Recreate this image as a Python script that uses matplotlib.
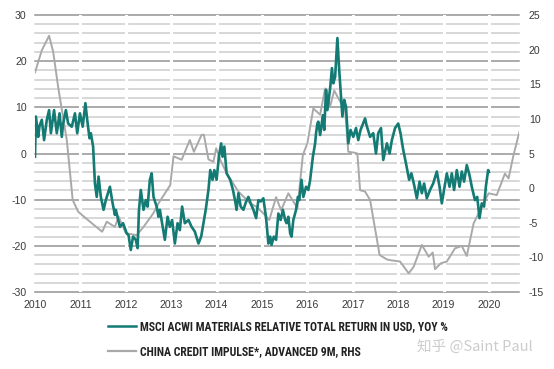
import matplotlib.pyplot as plt
from matplotlib.lines import Line2D
from matplotlib import font_manager as fm

# MSCI ACWI materials relative total return, YoY % (left axis)
teal_t = [2010.00, 2010.02, 2010.07, 2010.10, 2010.15, 2010.20, 2010.26, 2010.31, 2010.35, 2010.42,
          2010.48, 2010.54, 2010.59, 2010.62, 2010.68, 2010.73, 2010.81, 2010.88, 2010.93, 2010.99,
          2011.05, 2011.11, 2011.15, 2011.20, 2011.23, 2011.28, 2011.32, 2011.36, 2011.40, 2011.45,
          2011.51, 2011.56, 2011.65, 2011.71, 2011.76, 2011.78, 2011.87, 2011.94, 2012.02, 2012.06,
          2012.11, 2012.16, 2012.22, 2012.26, 2012.29, 2012.33, 2012.39, 2012.44, 2012.48, 2012.53,
          2012.57, 2012.61, 2012.68, 2012.72, 2012.75, 2012.80, 2012.86, 2012.92, 2012.97, 2013.02,
          2013.08, 2013.14, 2013.19, 2013.24, 2013.30, 2013.38, 2013.45, 2013.52, 2013.60, 2013.66,
          2013.71, 2013.76, 2013.82, 2013.86, 2013.91, 2013.95, 2014.00, 2014.05, 2014.10, 2014.13,
          2014.17, 2014.22, 2014.30, 2014.36, 2014.41, 2014.44, 2014.48, 2014.53, 2014.59, 2014.65,
          2014.70, 2014.75, 2014.81, 2014.87, 2014.92, 2014.97, 2015.03, 2015.09, 2015.14, 2015.18,
          2015.21, 2015.26, 2015.31, 2015.36, 2015.41, 2015.46, 2015.51, 2015.54, 2015.58, 2015.62,
          2015.65, 2015.69, 2015.75, 2015.79, 2015.82, 2015.87, 2015.91, 2015.97, 2016.02, 2016.06,
          2016.12, 2016.17, 2016.19, 2016.22, 2016.24, 2016.28, 2016.34, 2016.37, 2016.41, 2016.44,
          2016.50, 2016.54, 2016.57, 2016.61, 2016.66, 2016.70, 2016.73, 2016.77, 2016.81, 2016.85,
          2016.90, 2016.95, 2017.01, 2017.07, 2017.12, 2017.17, 2017.27, 2017.30, 2017.38, 2017.45,
          2017.51, 2017.56, 2017.62, 2017.67, 2017.75, 2017.81, 2017.86, 2017.93, 2018.00, 2018.05,
          2018.11, 2018.17, 2018.24, 2018.29, 2018.35, 2018.41, 2018.47, 2018.52, 2018.57, 2018.63,
          2018.70, 2018.77, 2018.85, 2018.91, 2018.96, 2019.01, 2019.07, 2019.13, 2019.18, 2019.23,
          2019.29, 2019.35, 2019.40, 2019.45, 2019.51, 2019.57, 2019.62, 2019.69, 2019.74, 2019.79,
          2019.84, 2019.89, 2019.93, 2019.98, 2020.00]
teal_v = [-0.7, 8.0, 3.6, 6.0, 7.3, 2.9, 7.3, 9.4, 4.4, 9.4,
          4.4, 8.7, 3.6, 6.5, 9.4, 6.5, 5.8, 8.7, 4.4, 8.7,
          5.8, 10.9, 7.3, 3.3, 4.4, 1.5, -6.5, -9.4, -5.0, -9.4,
          -12.2, -10.1, -7.2, -10.8, -13.3, -12.2, -15.9, -15.1, -17.3, -17.7,
          -20.9, -18.0, -18.7, -20.5, -12.2, -7.9, -12.2, -10.1, -11.5, -5.7,
          -4.3, -9.4, -11.5, -13.7, -12.2, -15.1, -18.7, -13.7, -15.9, -14.4,
          -19.5, -15.1, -16.6, -11.5, -15.1, -14.4, -15.9, -16.9, -19.5, -18.0,
          -15.1, -12.2, -7.9, -3.6, -5.7, -3.6, -5.7, -0.7, 2.2, -0.7,
          1.5, -4.3, -5.7, -7.9, -10.4, -12.2, -8.6, -11.5, -12.2, -10.4,
          -9.4, -10.8, -12.2, -14.0, -10.1, -10.4, -9.7, -14.0, -19.5, -18.0,
          -19.8, -18.0, -18.7, -13.0, -14.4, -12.2, -14.4, -15.1, -13.7, -17.3,
          -18.0, -14.4, -12.2, -9.4, -10.1, -5.7, -9.4, -7.2, -7.9, -5.7,
          -0.7, 2.2, 4.4, 6.5, 6.9, 4.0, 8.3, 5.1, 13.8, 9.4,
          14.1, 18.5, 15.2, 16.6, 25.0, 18.1, 13.8, 8.0, 11.6, 10.1,
          2.2, 5.1, 3.6, 5.5, 2.9, 5.1, 7.6, 6.2, 3.6, 4.4,
          0.0, 4.4, 5.5, -1.4, 2.2, 0.0, 2.9, 5.5, 6.5, 4.4,
          0.8, -2.1, -5.7, -4.3, -6.8, -9.7, -6.1, -8.6, -6.5, -9.7,
          -7.9, -6.5, -3.9, -7.2, -10.8, -7.9, -4.3, -7.2, -4.3, -7.9,
          -3.6, -7.2, -3.9, -6.1, -2.5, -4.7, -7.2, -10.1, -9.4, -14.0,
          -10.8, -11.5, -7.2, -3.6, -4.0]

# China credit impulse, advanced 9M (right axis)
gray_t = [2010.00, 2010.15, 2010.31, 2010.40, 2010.51, 2010.70, 2010.83, 2010.95, 2011.21, 2011.48,
          2011.58, 2011.76, 2011.84, 2012.00, 2012.24, 2012.39, 2012.61, 2012.72, 2012.98, 2013.05,
          2013.23, 2013.41, 2013.50, 2013.67, 2013.72, 2013.82, 2013.93, 2013.99, 2014.08, 2014.22,
          2014.48, 2014.74, 2014.88, 2015.03, 2015.16, 2015.31, 2015.42, 2015.58, 2015.78, 2015.90,
          2016.00, 2016.13, 2016.28, 2016.39, 2016.50, 2016.59, 2016.76, 2016.83, 2016.90, 2017.05,
          2017.10, 2017.16, 2017.27, 2017.38, 2017.59, 2017.75, 2017.82, 2018.04, 2018.23, 2018.34,
          2018.52, 2018.67, 2018.76, 2018.81, 2018.94, 2019.07, 2019.25, 2019.40, 2019.51, 2019.66,
          2019.84, 2019.99, 2020.17, 2020.35, 2020.43, 2020.54, 2020.67]
gray_v = [16.7, 19.9, 22.0, 19.7, 14.6, 6.95, -1.7, -3.4, -4.85, -6.3,
          -4.85, -5.6, -4.1, -6.5, -6.8, -5.6, -3.6, -2.2, 0.45, 4.6,
          4.1, 6.95, 5.25, 7.7, 7.7, 4.15, 3.8, 5.75, 4.1, 2.15,
          -0.5, -2.2, -2.7, -3.65, -4.6, -1.3, -3.2, -0.75, -2.9, 4.8,
          6.5, 11.5, 10.6, 14.4, 11.8, 14.1, 12.0, 11.3, 5.25, 5.1,
          5.0, -0.3, -0.5, -1.7, -9.65, -10.3, -10.4, -10.6, -12.3, -11.35,
          -8.2, -9.9, -9.3, -11.7, -10.85, -10.6, -8.7, -8.35, -9.8, -5.1,
          -2.7, -0.75, -1.0, 2.1, 1.4, 4.8, 8.15]

years = list(range(2010, 2021))
left_ticks = [30, 20, 10, 0, -10, -20, -30]
right_ticks = [25, 20, 15, 10, 5, 0, -5, -10, -15]

teal = '#137b74'
gray = '#a9a9a9'
tick_font = {'family': 'Liberation Sans', 'size': 7.6, 'color': '#3a3a3a'}

# pick a narrow bold face for the legend if one is installed
installed = {f.name for f in fm.fontManager.ttflist}
legend_prop = {'family': 'Liberation Sans', 'weight': 'bold', 'size': 6.8}
for name in ['Liberation Sans Narrow', 'Roboto Condensed', 'Open Sans Condensed', 'Noto Sans Condensed']:
    if name in installed:
        legend_prop = {'family': name, 'weight': 'bold', 'size': 8.5}
        break
else:
    for f in fm.fontManager.ttflist:
        if f.name == 'DejaVu Sans' and f.stretch == 'condensed' and f.weight in (700, 'bold') \
                and f.style == 'normal':
            legend_prop = {'family': 'DejaVu Sans', 'stretch': 'condensed', 'weight': 'bold',
                           'size': 7.4}
            break

fig = plt.figure(figsize=(5.54, 3.69), dpi=100)
ax = fig.add_axes([35 / 554, 1 - 292 / 369, (519 - 35) / 554, (292 - 15) / 369])
ax.set_xlim(2010, 2020.66)
ax.set_ylim(-30, 30)

# horizontal grid, every 2 on the left scale, darker every 10
for v in range(-30, 31, 2):
    major = v % 10 == 0
    ax.axhline(v, color='#939393' if major else '#cdcdcd', lw=1.1, zorder=0, clip_on=False)
# white gaps at year boundaries
for yr in years[1:]:
    ax.axvline(yr, color='white', lw=2.2, zorder=1)

ax2 = ax.twinx()
ax2.set_ylim(-15, 25)
ax2.plot(gray_t, gray_v, color=gray, lw=1.4)

ax3 = ax.twinx()
ax3.set_ylim(-30, 30)
ax3.plot(teal_t, teal_v, color=teal, lw=1.9)
ax3.set_yticks([])

for a in (ax, ax2, ax3):
    for s in a.spines.values():
        s.set_visible(False)

ax.set_yticks(left_ticks)
ax.set_yticklabels([str(t) for t in left_ticks], fontdict=tick_font)
ax.set_xticks(years)
ax.set_xticklabels([str(y) for y in years], fontdict=tick_font)
ax.tick_params(axis='both', length=0)
ax.tick_params(axis='y', pad=6)
ax.tick_params(axis='x', pad=6)
ax2.set_yticks(right_ticks)
ax2.set_yticklabels([str(t) for t in right_ticks], fontdict=tick_font)
ax2.tick_params(axis='y', length=0, pad=7)

handles = [Line2D([], [], color=teal, lw=1.8), Line2D([], [], color=gray, lw=1.6)]
labels = ['MSCI ACWI MATERIALS RELATIVE TOTAL RETURN IN USD, YOY %',
          'CHINA CREDIT IMPULSE*, ADVANCED 9M, RHS']
fig.legend(handles, labels, loc='upper left', bbox_to_anchor=(108 / 554, 1 - 320 / 369),
           frameon=False, handlelength=2.4, handletextpad=0.35, labelspacing=1.05,
           prop=legend_prop, labelcolor='#222222', borderpad=0, borderaxespad=0)

fig.text(475 / 554, 1 - 347 / 369, '知乎 @Saint Paul', ha='center', va='center',
         fontsize=10.5, color='#cccccc', family=['Noto Sans CJK SC', 'DejaVu Sans'])

fig.savefig('out.png', dpi=100)
